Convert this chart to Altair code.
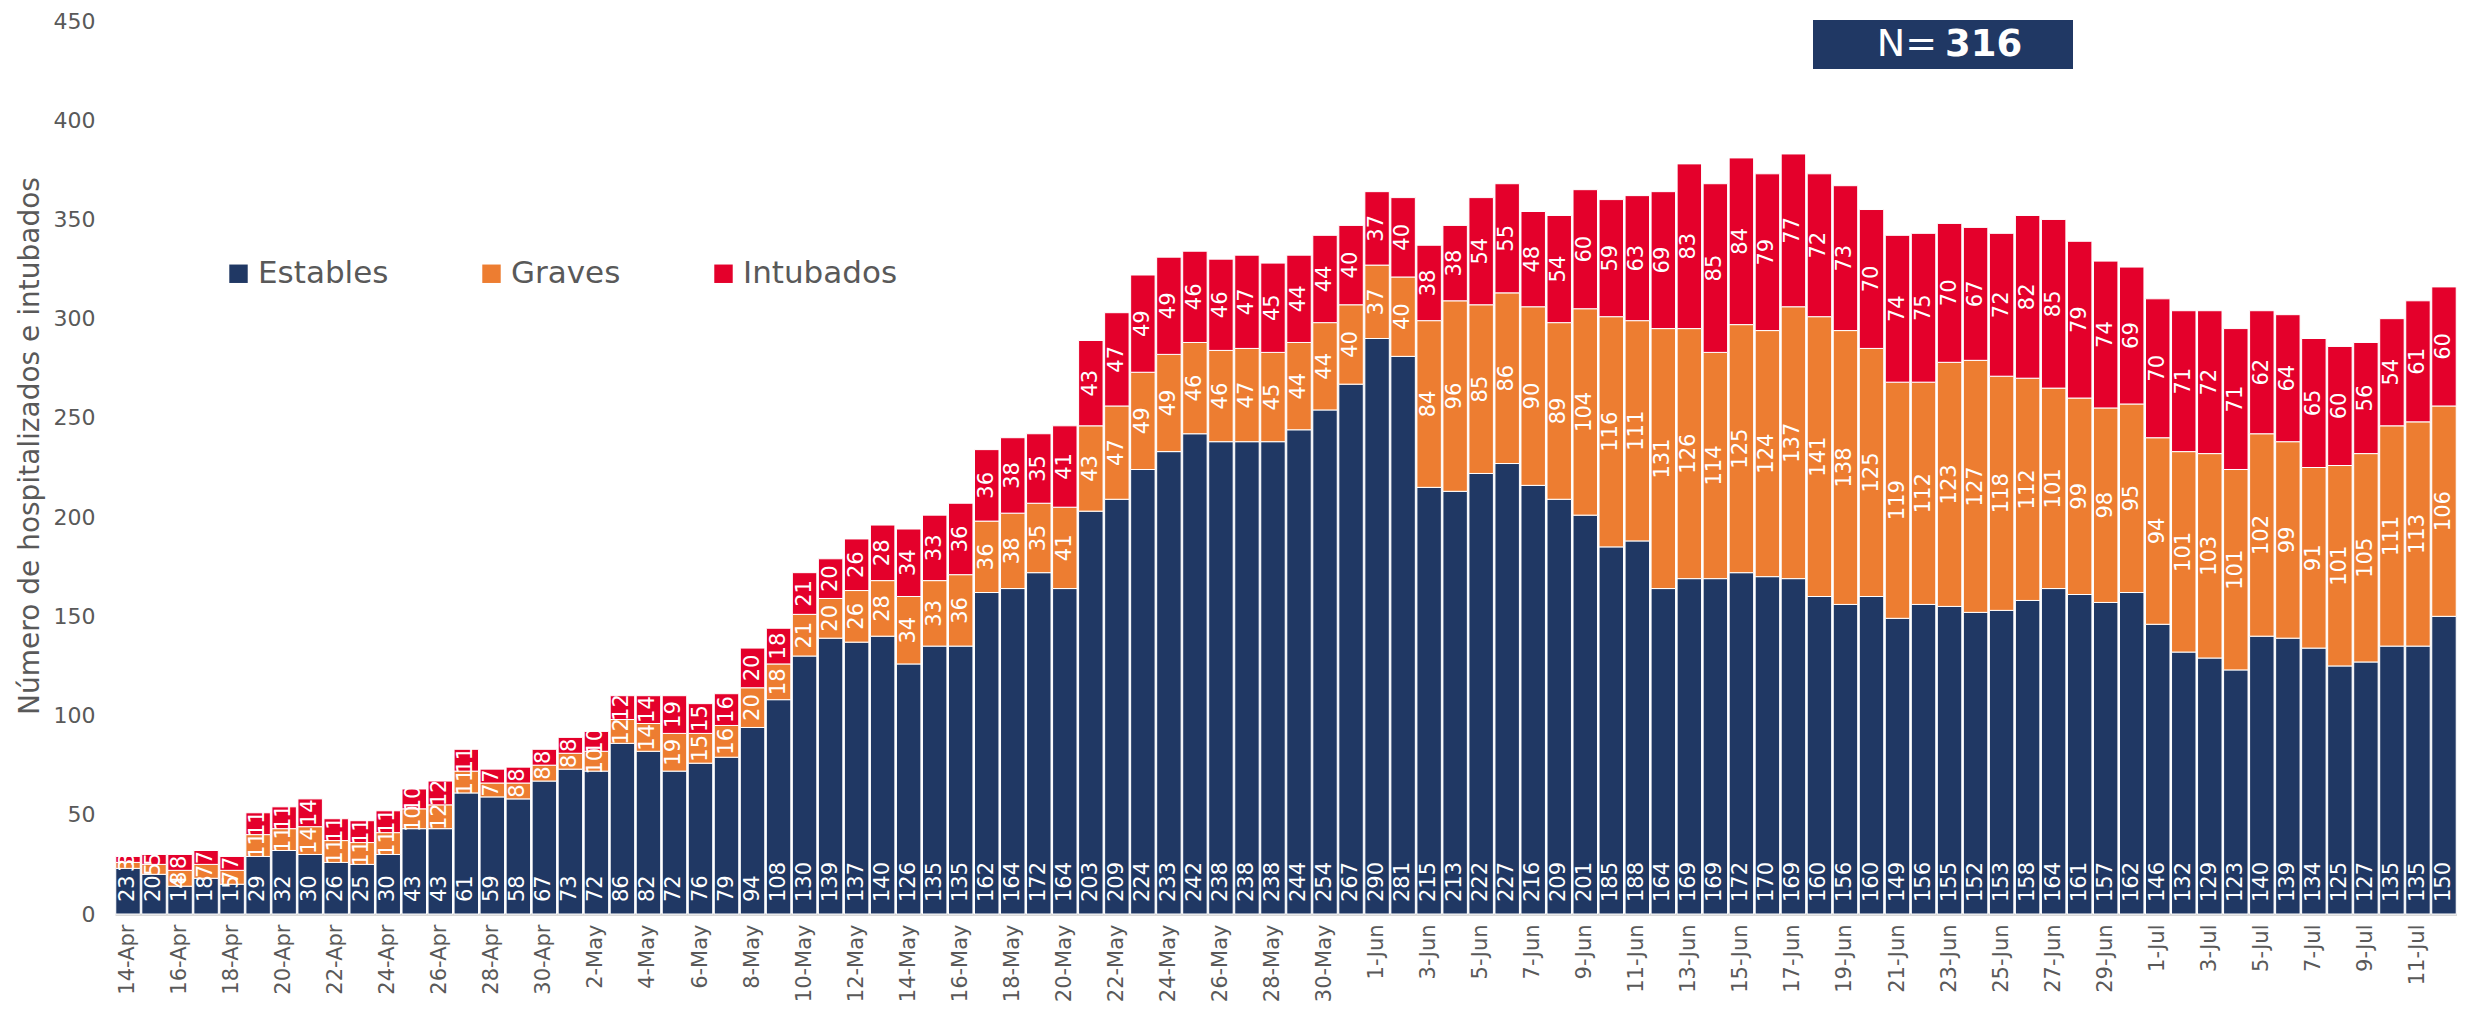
import altair as alt
import pandas as pd

# ---- categories (dates) ----
meses = [("Apr", 14, 30), ("May", 1, 31), ("Jun", 1, 30), ("Jul", 1, 12)]
fechas = [f"{d}-{m}" for m, a, b in meses for d in range(a, b + 1)]

# ---- series values ----
estables = [23, 20, 14, 18, 15, 29, 32, 30, 26, 25, 30, 43, 43, 61, 59, 58, 67,
            73, 72, 86, 82, 72, 76, 79, 94, 108, 130, 139, 137, 140, 126, 135, 135,
            162, 164, 172, 164, 203, 209, 224, 233, 242, 238, 238, 238, 244, 254, 267,
            290, 281, 215, 213, 222, 227, 216, 209, 201, 185, 188, 164, 169, 169, 172,
            170, 169, 160, 156, 160, 149, 156, 155, 152, 153, 158, 164, 161, 157, 162,
            146, 132, 129, 123, 140, 139, 134, 125, 127, 135, 135, 150]
graves = [3, 5, 8, 7, 7, 11, 11, 14, 11, 11, 11, 10, 12, 11, 7, 8, 8,
          8, 10, 12, 14, 19, 15, 16, 20, 18, 21, 20, 26, 28, 34, 33, 36,
          36, 38, 35, 41, 43, 47, 49, 49, 46, 46, 47, 45, 44, 44, 40,
          37, 40, 84, 96, 85, 86, 90, 89, 104, 116, 111, 131, 126, 114, 125,
          124, 137, 141, 138, 125, 119, 112, 123, 127, 118, 112, 101, 99, 98, 95,
          94, 101, 103, 101, 102, 99, 91, 101, 105, 111, 113, 106]
intubados = [3, 5, 8, 7, 7, 11, 11, 14, 11, 11, 11, 10, 12, 11, 7, 8, 8,
             8, 10, 12, 14, 19, 15, 16, 20, 18, 21, 20, 26, 28, 34, 33, 36,
             36, 38, 35, 41, 43, 47, 49, 49, 46, 46, 47, 45, 44, 44, 40,
             37, 40, 38, 38, 54, 55, 48, 54, 60, 59, 63, 69, 83, 85, 84,
             79, 77, 72, 73, 70, 74, 75, 70, 67, 72, 82, 85, 79, 74, 69,
             70, 71, 72, 71, 62, 64, 65, 60, 56, 54, 61, 60]

series = ["Estables", "Graves", "Intubados"]
colores = ["#203864", "#ED7D31", "#E4002B"]
y_ticks = [0, 50, 100, 150, 200, 250, 300, 350, 400, 450]
y_title = "Número de hospitalizados e intubados"

FONT = "DejaVu Sans"
GRAY = "#595959"
PLOT_H = 893

rows = []
for i, f in enumerate(fechas):
    for k, (s, vals) in enumerate(zip(series, [estables, graves, intubados])):
        rows.append({"fecha": f, "serie": s, "valor": vals[i], "orden": k})
df = pd.DataFrame(rows)

N = estables[-1] + graves[-1] + intubados[-1]

x_enc = alt.X(
    "fecha:N", sort=fechas,
    scale=alt.Scale(paddingInner=0.06, paddingOuter=0.03),
    axis=alt.Axis(values=fechas[::2], labelAngle=-90, title=None, ticks=False,
                  domainColor="#D9D9D9", domainWidth=3, labelPadding=10,
                  labelFontSize=21, labelColor=GRAY, labelFont=FONT),
)

y_axis = alt.Axis(values=y_ticks, title=y_title,
                  grid=False, domain=False, ticks=False, labelPadding=20,
                  labelFontSize=22, labelColor=GRAY, labelFont=FONT,
                  titleFontSize=28, titleFont=FONT, titleColor=GRAY,
                  titleFontWeight="normal", titlePadding=9,
                  titleY=PLOT_H / 2 - 22)
y_scale = alt.Scale(domain=[0, 450], nice=False)

base = alt.Chart(df).transform_stack(
    stack="valor", groupby=["fecha"], as_=["y0", "y1"],
    sort=[alt.SortField("orden", order="ascending")],
).transform_calculate(mid="(datum.y0 + datum.y1) / 2")

bars = base.mark_bar(stroke="white", strokeWidth=1).encode(
    x=x_enc,
    y=alt.Y("y0:Q", scale=y_scale, axis=y_axis, title=y_title),
    y2="y1:Q",
    color=alt.Color("serie:N", scale=alt.Scale(domain=series, range=colores),
                    legend=alt.Legend(orient="none", legendX=108, legendY=237,
                                      direction="horizontal", columns=3,
                                      columnPadding=87, title=None,
                                      symbolType="square", symbolSize=340,
                                      symbolStrokeWidth=0, labelOffset=4,
                                      labelFontSize=31, labelFont=FONT,
                                      labelColor=GRAY)),
)

lab_est = base.transform_filter("datum.serie == 'Estables'").mark_text(
    angle=270, align="left", baseline="middle", dx=12, color="white",
    fontSize=21, font=FONT,
).encode(x=x_enc, y=alt.Y("y0:Q", scale=y_scale, axis=y_axis, title=y_title),
         text="valor:Q")

lab_otros = base.transform_filter("datum.serie != 'Estables'").mark_text(
    angle=270, align="center", baseline="middle", color="white",
    fontSize=21, font=FONT,
).encode(x=x_enc, y=alt.Y("mid:Q", scale=y_scale, axis=y_axis, title=y_title),
         text="valor:Q")

ndf = pd.DataFrame({"n": [N]})
nbox = alt.Chart(ndf).mark_rect(color="#203864").encode(
    x=alt.value(1698), x2=alt.value(1958), y=alt.value(-1), y2=alt.value(48))
ntxt1 = alt.Chart(ndf).mark_text(
    align="right", baseline="middle", color="white", fontSize=38, font=FONT
).encode(x=alt.value(1822), y=alt.value(24), text=alt.value("N="))
ntxt2 = alt.Chart(ndf).mark_text(
    align="left", baseline="middle", color="white", fontSize=37, font=FONT,
    fontWeight="bold"
).encode(x=alt.value(1830), y=alt.value(24), text="n:Q")

chart = alt.layer(bars, lab_est, lab_otros, nbox, ntxt1, ntxt2).properties(
    width=2342, height=PLOT_H,
    autosize=alt.AutoSizeParams(type="none"),
    padding={"left": 107, "top": 13, "right": 0, "bottom": 92},
).configure_view(stroke=None)

chart.save("out.html", embed_options={"renderer": "svg", "actions": False})
